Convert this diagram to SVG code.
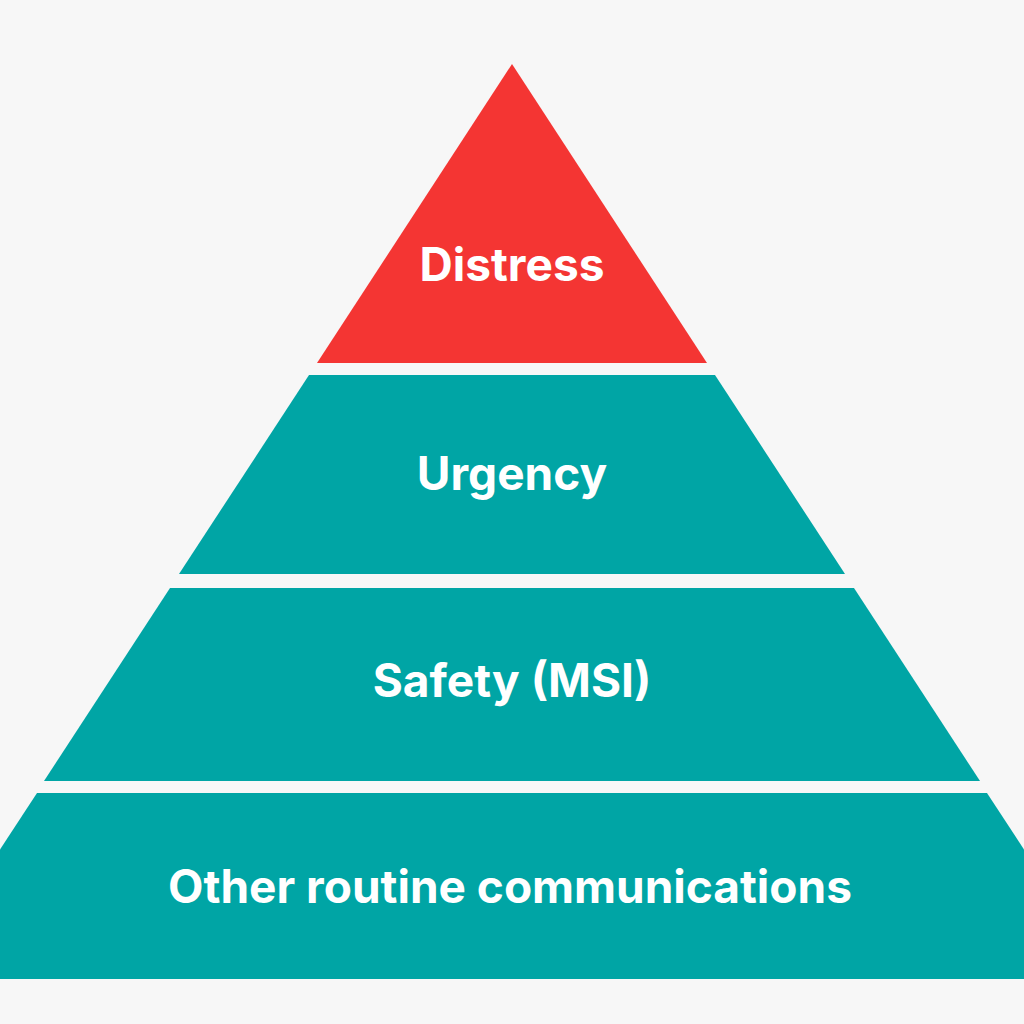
<svg xmlns="http://www.w3.org/2000/svg" width="1024" height="1024" viewBox="0 0 1024 1024">
<style>
.red{fill:#f43533}
.teal{fill:#00a5a5}
.lbl{fill:#ffffff;font-family:Inter,"Open Sans","Liberation Sans",sans-serif;font-weight:700;font-size:46px;text-anchor:middle}
</style>
<rect width="1024" height="1024" fill="#f7f7f7"/>
<g id="distress">
<polygon class="red" points="512,64 707,363 317,363"/>
<text class="lbl" x="512" y="281">Distress</text>
</g>
<g id="urgency">
<polygon class="teal" points="309,375 715,375 845,574 179,574"/>
<text class="lbl" x="512" y="490">Urgency</text>
</g>
<g id="safety">
<polygon class="teal" points="170,588 854,588 980,781 44,781"/>
<text class="lbl" x="512" y="697">Safety (MSI)</text>
</g>
<g id="routine">
<polygon class="teal" points="37,793 987,793 1109,979 -85,979"/>
<text class="lbl" x="510" y="903">Other routine communications</text>
</g>
<g id="connectors"/>
</svg>
